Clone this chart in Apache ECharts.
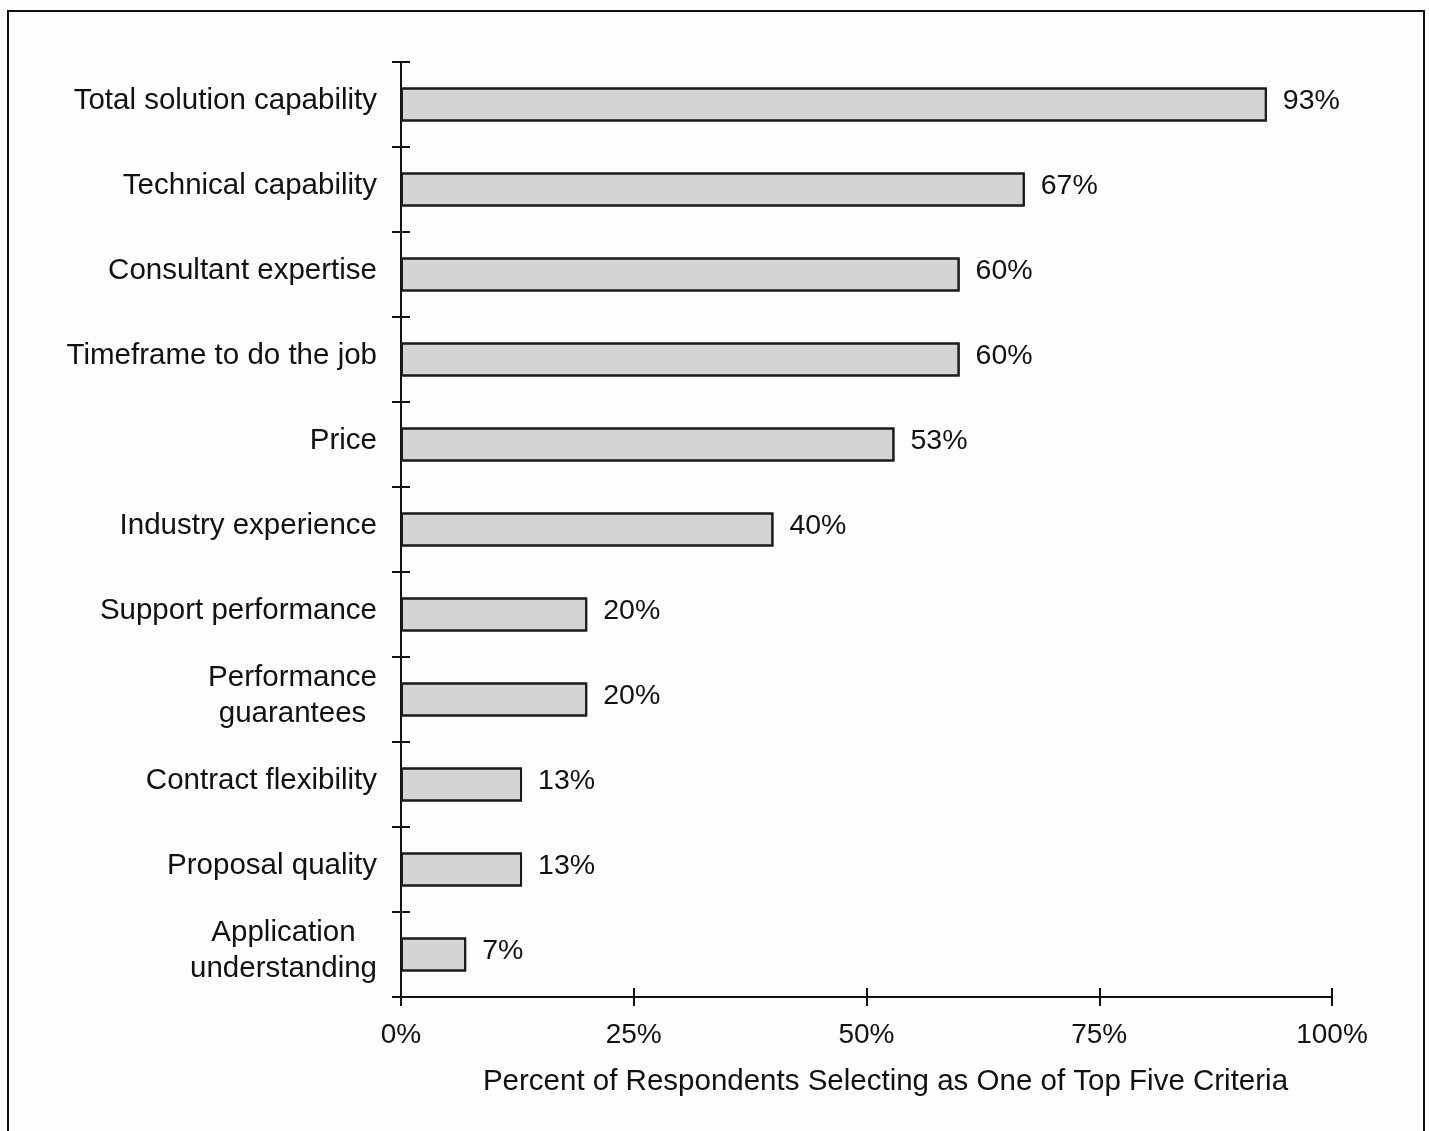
<!DOCTYPE html>
<html>
<head>
<meta charset="utf-8">
<script src="https://cdn.jsdelivr.net/npm/echarts@6/dist/echarts.min.js"></script>
<style>
  html, body { margin: 0; padding: 0; background: #fdfdfd; }
  #chart { width: 1429px; height: 1131px; }
</style>
</head>
<body>
<div id="chart"></div>
<script>
// Selection criteria, top to bottom
const categories = [
  'Total solution capability',
  'Technical capability',
  'Consultant expertise',
  'Timeframe to do the job',
  'Price',
  'Industry experience',
  'Support performance',
  'Performance\nguarantees',
  'Contract flexibility',
  'Proposal quality',
  'Application\nunderstanding'
];
// Percent of respondents
const values = [93, 67, 60, 60, 53, 40, 20, 20, 13, 13, 7];
const xTicks = [0, 25, 50, 75, 100];
const axisTitle = 'Percent of Respondents Selecting as One of Top Five Criteria';

const FONT = 'Liberation Sans, Arial, sans-serif';
const INK = '#111';

const chart = echarts.init(document.getElementById('chart'), null, { renderer: 'canvas' });

// Multi-line category labels are centred line by line
function catLabel(v) {
  return v.split('\n').map(s => '{c|' + s + '}').join('\n');
}

const grid = { left: 401, right: 97, top: 62, bottom: 134 };

chart.setOption({
  backgroundColor: '#fdfdfd',
  animation: false,
  grid: grid,
  xAxis: [
    {
      type: 'value', min: 0, max: 100, interval: 25,
      position: 'bottom',
      axisLine: { show: true, lineStyle: { color: INK, width: 2 } },
      axisTick: { show: true, length: 9, lineStyle: { color: INK, width: 2 } },
      splitLine: { show: false },
      axisLabel: {
        margin: 24, fontFamily: FONT, fontSize: 28, color: INK,
        formatter: v => xTicks.includes(v) ? v + '%' : ''
      },
      name: axisTitle,
      nameLocation: 'middle',
      nameGap: 70,
      nameTextStyle: { fontFamily: FONT, fontSize: 29.5, color: INK, padding: [0, 0, 0, 38] }
    },
    {
      // inward half of the crossing ticks
      type: 'value', min: 0, max: 100, interval: 25,
      position: 'bottom', gridIndex: 0,
      axisLine: { show: false },
      axisTick: { show: true, inside: true, length: 9, lineStyle: { color: INK, width: 2 } },
      axisLabel: { show: false },
      splitLine: { show: false }
    }
  ],
  yAxis: [
    {
      type: 'category', data: categories, inverse: true,
      axisLine: { show: true, lineStyle: { color: INK, width: 2 } },
      axisTick: { show: true, length: 9, lineStyle: { color: INK, width: 2 } },
      axisLabel: {
        margin: 24, fontFamily: FONT, fontSize: 29.5, color: INK,
        lineHeight: 36,
        padding: [0, 0, 8, 0],
        formatter: catLabel,
        rich: { c: { fontFamily: FONT, fontSize: 29.5, color: INK, align: 'center', lineHeight: 36 } }
      }
    },
    {
      type: 'category', data: categories, inverse: true,
      position: 'left',
      axisLine: { show: false },
      axisTick: { show: true, inside: true, length: 9, lineStyle: { color: INK, width: 2 } },
      axisLabel: { show: false }
    }
  ],
  series: [
    {
      type: 'bar',
      data: values,
      xAxisIndex: 0,
      yAxisIndex: 0,
      barWidth: 34,
      itemStyle: {
        color: '#d4d4d4',
        borderColor: '#1a1a1a',
        borderWidth: 2,
        decal: {
          symbol: 'rect', symbolSize: 0.12, color: 'rgba(150,150,150,0.45)',
          dashArrayX: [1, 5], dashArrayY: [1, 4], rotation: 0.5
        }
      },
      label: {
        show: true, position: 'right', distance: 16,
        fontFamily: FONT, fontSize: 28.5, color: INK,
        offset: [0, -3],
        formatter: p => p.value + '%'
      }
    }
  ],
  graphic: [
    {
      type: 'rect', silent: true, z: 100,
      shape: { x: 8, y: 11, width: 1416, height: 1200 },
      style: { fill: 'none', stroke: '#111', lineWidth: 2 }
    }
  ]
});
</script>
</body>
</html>
